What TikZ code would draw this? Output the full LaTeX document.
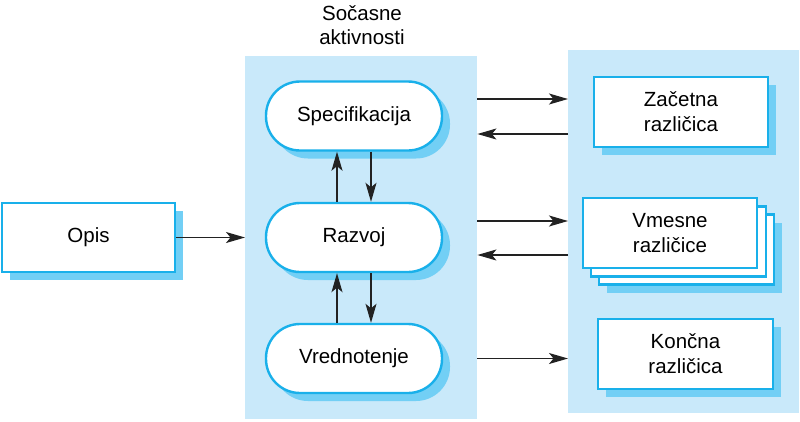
\documentclass[tikz,border=0pt]{standalone}
\usepackage{fontspec}
\setmainfont{Liberation Sans}
\usetikzlibrary{arrows.meta,calc,shadows}
\definecolor{panelbg}{HTML}{C9E9FA}
\definecolor{boxline}{HTML}{19B0EA}
\definecolor{shadowc}{HTML}{72CFF5}
\definecolor{arrowc}{HTML}{222222}
\tikzset{
  panel/.style={fill=panelbg, draw=none, inner sep=0pt, anchor=north west},
  sbox/.style={draw=boxline, line width=2.4pt, fill=white, inner sep=0pt,
    font=\fontsize{20.5}{25}\selectfont, align=center,
    drop shadow={shadow xshift=8pt, shadow yshift=-8pt, fill=shadowc, opacity=1}},
  nbox/.style={draw=boxline, line width=2.4pt, fill=white, inner sep=0pt},
  pill/.style={sbox, rounded corners=34pt, minimum width=176pt, minimum height=69pt},
  rbox/.style={sbox, minimum width=174pt, minimum height=70pt},
  conn/.style={draw=arrowc, line width=1.3pt, -{Stealth[length=19pt,width=11pt,inset=4.5pt]}},
}
\begin{document}
\begin{tikzpicture}[x=1pt,y=-1pt]
\useasboundingbox (0,0) rectangle (800,421);
% panels
\node[panel, minimum width=232pt, minimum height=363pt] (mid) at (245,56) {};
\node[panel, minimum width=231pt, minimum height=363pt] (right) at (568,50) {};
% title
\node[font=\fontsize{20.5}{24}\selectfont, align=center] (title) at (362,25) {Sočasne\\aktivnosti};
% left box
\node[rbox, minimum width=173pt, minimum height=69pt] (opis) at (88.5,237.5) {Opis};
% pills
\node[pill] (spec) at (354,116) {Specifikacija};
\node[pill] (raz) at (354,237.5) {Razvoj};
\node[pill] (vred) at (354,358.5) {Vrednotenje};
% right boxes
\node[rbox] (zac) at (681,112) {Začetna\\različica};
\node[rbox, minimum width=175pt] (v3) at (686.5,249.5) {};
\node[nbox, minimum width=175pt, minimum height=70pt] (v2) at (678.5,241.5) {};
\node[nbox, minimum width=174pt, minimum height=70pt, font=\fontsize{20.5}{25}\selectfont, align=center] (vm) at (670,233) {Vmesne\\različice};
\node[rbox, minimum width=175pt] (kon) at (685.5,354) {Končna\\različica};
% helper coordinates for the connectors
\coordinate (s1) at ($(spec.center)+(0,17pt)$);
\coordinate (s2) at ($(spec.center)+(0,-18pt)$);
\coordinate (r1) at ($(raz.center)+(0,16.5pt)$);
\coordinate (r2) at ($(raz.center)+(0,-17.5pt)$);
\coordinate (su) at ($(spec.south)+(-17pt,0)$);
\coordinate (sd) at ($(spec.south)+(17pt,0)$);
\coordinate (rnu) at ($(raz.north)+(-17pt,0)$);
\coordinate (rnd) at ($(raz.north)+(17pt,0)$);
\coordinate (rsu) at ($(raz.south)+(-17pt,0)$);
\coordinate (rsd) at ($(raz.south)+(17pt,0)$);
\coordinate (vu) at ($(vred.north)+(-17pt,0)$);
\coordinate (vd) at ($(vred.north)+(17pt,0)$);
% connectors
\draw[conn] (opis.east) -- (opis.east -| mid.west);
\draw[conn] (rnu) -- (su);
\draw[conn] (sd) -- (rnd);
\draw[conn] (vu) -- (rsu);
\draw[conn] (rsd) -- (vd);
\draw[conn] (s1 -| mid.east) -- (s1 -| right.west);
\draw[conn] (s2 -| right.west) -- (s2 -| mid.east);
\draw[conn] (r1 -| mid.east) -- (r1 -| right.west);
\draw[conn] (r2 -| right.west) -- (r2 -| mid.east);
\draw[conn] (vred.center -| mid.east) -- (vred.center -| right.west);
\end{tikzpicture}
\end{document}
